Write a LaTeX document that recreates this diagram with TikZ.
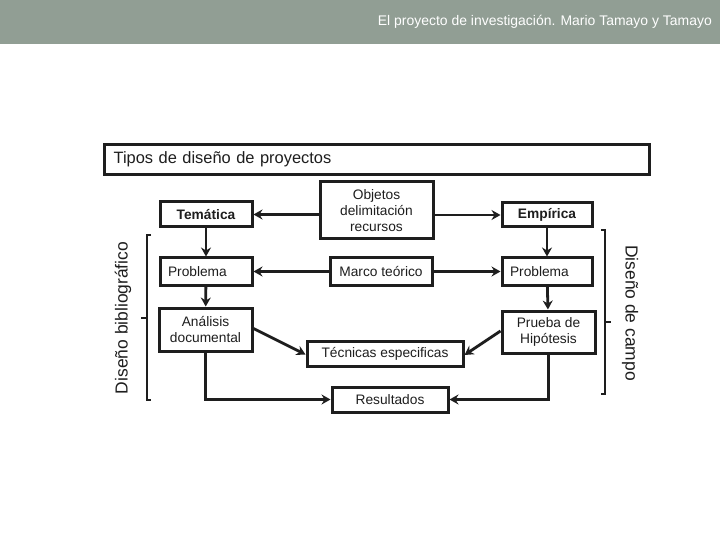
\documentclass[tikz,border=0pt]{standalone}
\usepackage{fontspec}
\setmainfont{Liberation Sans}
\usetikzlibrary{arrows.meta}
\definecolor{hdr}{HTML}{919E94}
\definecolor{ink}{HTML}{1E1E1E}
\begin{document}
\begin{tikzpicture}[x=1bp,y=-1bp,
  box/.style={draw=ink,line width=3bp,fill=white,inner sep=2bp,align=center,
    font=\fontsize{13.8}{16.4}\selectfont,text=ink},
  boldbox/.style={box,font=\fontsize{13.8}{16.4}\selectfont\bfseries},
  probbox/.style={box,text width=76bp,inner xsep=8bp,align=left},
  conn/.style={draw=ink,line width=2.8bp,-{Stealth[length=9bp,width=10bp,inset=3bp]}},
  bracestyle/.style={draw=ink,line width=2.2bp},
  side/.style={font=\fontsize{17.5}{20}\selectfont,text=ink,inner sep=0pt}]
\useasboundingbox (0,0) rectangle (720,540);
\fill[white] (0,0) rectangle (720,540);
% header
\fill[hdr] (0,0) rectangle (720,44);
\node[anchor=east,text=white,font=\fontsize{14}{16}\selectfont,inner sep=0pt] (hdrtext) at (712,22) {El proyecto de investigación. Mario Tamayo y Tamayo};
% title box
\node[draw=ink,line width=3.2bp,minimum width=545bp,minimum height=30bp,text width=527bp,inner xsep=9bp,align=left,
  font=\fontsize{16.5}{19}\selectfont,text=ink,anchor=north west] (title) at (103,143) {Tipos de diseño de proyectos};
% boxes
\node[boldbox,minimum width=92bp,minimum height=25bp] (tem) at (206,214.5) {Temática};
\node[box,minimum width=113bp,minimum height=57bp] (obj) at (376.5,210.5) {Objetos\\delimitación\\recursos};
\node[boldbox,minimum width=90bp,minimum height=24bp] (emp) at (547,215) {Empírica};
\node[probbox,minimum height=27bp] (probl) at (206,271.5) {Problema};
\node[box,minimum width=102bp,minimum height=27bp] (marco) at (381,271.5) {Marco teórico};
\node[probbox,text width=74bp,minimum height=27bp] (probr) at (547,271.5) {Problema};
\node[box,minimum width=93bp,minimum height=43bp] (anal) at (205.5,329.5) {Análisis\\documental};
\node[box,minimum width=156bp,minimum height=25bp] (tec) at (385,353.5) {Técnicas especificas};
\node[box,minimum width=116bp,minimum height=25bp] (res) at (390,399.5) {Resultados};
\node[box,minimum width=93bp,minimum height=42bp] (prueba) at (548.5,332) {Prueba de\\Hipótesis};
% connectors
\draw[conn] (obj.west |- tem) -- (tem.east);
\draw[conn] (obj.east |- emp) -- (emp.west);
\draw[conn] (tem) -- (probl);
\draw[conn] (emp) -- (probr);
\draw[conn] (marco) -- (probl);
\draw[conn] (marco) -- (probr);
\draw[conn] (probl) -- (anal);
\draw[conn] (probr) -- (prueba);
\coordinate (aout) at ([yshift=1bp]anal.east);
\coordinate (tinl) at ([yshift=-1bp]tec.west);
\draw[conn] (aout) -- (tinl);
\coordinate (pout) at ([yshift=1bp]prueba.west);
\coordinate (tinr) at ([yshift=-1.5bp]tec.east);
\draw[conn] (pout) -- (tinr);
\draw[conn] (anal.south) |- (res.west);
\draw[conn] (prueba.south) |- (res.east);
% braces
\draw[bracestyle] (151,235) -- (147,235) -- (147,400) -- (151,400);
\draw[bracestyle] (147,318) -- (141,318);
\draw[bracestyle] (601,230) -- (605,230) -- (605,394) -- (601,394);
\draw[bracestyle] (605,322) -- (611,322);
% side labels
\node[side,rotate=90] (lblleft) at (123,318) {Diseño bibliográfico};
\node[side,rotate=-90] (lblright) at (630,313) {Diseño de campo};
\end{tikzpicture}
\end{document}
